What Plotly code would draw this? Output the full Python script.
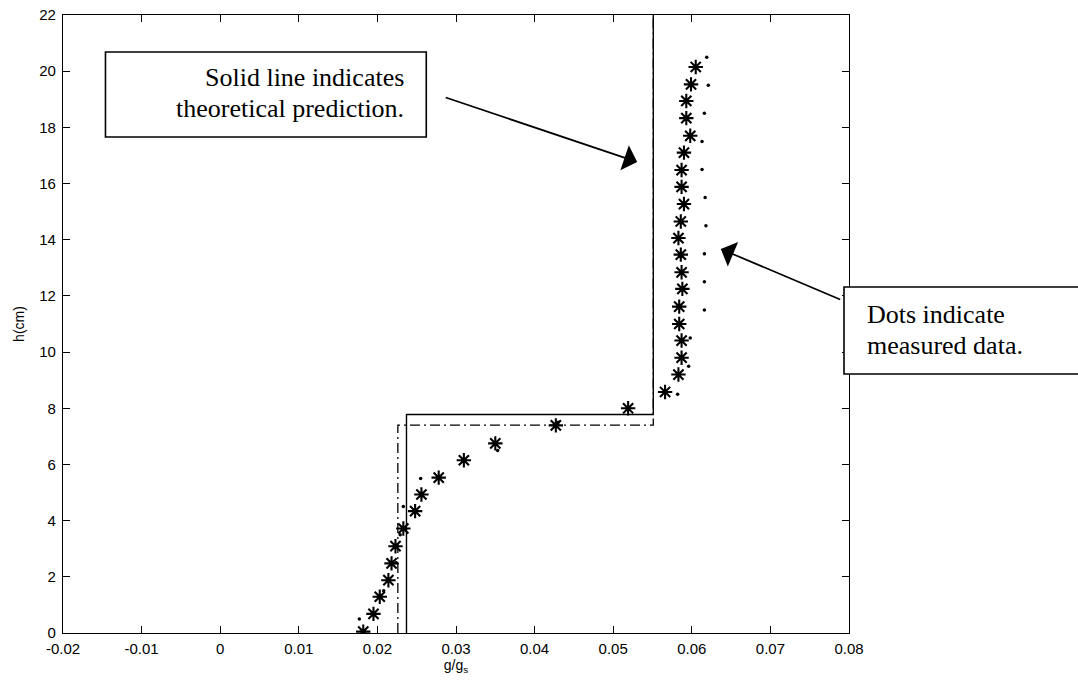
import plotly.graph_objects as go

# ---------------- data ----------------
# measured data, "asterisk" series (g/g_s, h in cm)
star_g = [0.0182, 0.0195, 0.0203, 0.0214, 0.0218, 0.0223, 0.0233, 0.0248, 0.0256,
          0.0278, 0.0310, 0.0350, 0.0427, 0.0519, 0.0566, 0.0583, 0.0587, 0.0587,
          0.0584, 0.0584, 0.0588, 0.0587, 0.0586, 0.0583, 0.0586, 0.0590, 0.0587,
          0.0587, 0.0590, 0.0598, 0.0593, 0.0593, 0.0599, 0.0605]
star_h = [0.05, 0.68, 1.29, 1.88, 2.48, 3.09, 3.72, 4.34, 4.93, 5.53, 6.15, 6.75,
          7.39, 8.00, 8.58, 9.20, 9.80, 10.41, 11.00, 11.62, 12.25, 12.84, 13.47,
          14.06, 14.65, 15.27, 15.88, 16.48, 17.10, 17.70, 18.33, 18.94, 19.53, 20.15]

# measured data, "dot" series
dot_g = [0.0177, 0.0208, 0.0224, 0.0229, 0.0233, 0.0255, 0.0353, 0.0430, 0.0582,
         0.0596, 0.0598, 0.0616, 0.0616, 0.0616, 0.0618, 0.0617, 0.0613, 0.0613,
         0.0616, 0.0621, 0.0619]
dot_h = [0.5, 1.5, 2.5, 3.5, 4.5, 5.5, 6.5, 7.5, 8.5, 9.5, 10.5, 11.5, 12.5, 13.5,
         14.5, 15.5, 16.5, 17.5, 18.5, 19.5, 20.5]

# theoretical prediction (solid) and alternative (dash-dot)
theory_g = [0.0237, 0.0237, 0.0551, 0.0551]
theory_h = [0.0, 7.78, 7.78, 22.0]
alt_g = [0.0226, 0.0226, 0.0551, 0.0551]
alt_h = [0.0, 7.40, 7.40, 22.0]

# axis ticks
x_ticks = [-0.02, -0.01, 0, 0.01, 0.02, 0.03, 0.04, 0.05, 0.06, 0.07, 0.08]
x_tick_labels = ["-0.02", "-0.01", "0", "0.01", "0.02", "0.03", "0.04", "0.05",
                 "0.06", "0.07", "0.08"]
y_ticks = [0, 2, 4, 6, 8, 10, 12, 14, 16, 18, 20, 22]
y_tick_labels = [str(v) for v in y_ticks]

# ---------------- figure ----------------
fig = go.Figure()

fig.add_trace(go.Scatter(x=alt_g, y=alt_h, mode="lines",
                         line=dict(color="black", width=1.3, dash="10px,4px,2px,4px"),
                         hoverinfo="skip", showlegend=False))
fig.add_trace(go.Scatter(x=theory_g, y=theory_h, mode="lines",
                         line=dict(color="black", width=1.4),
                         hoverinfo="skip", showlegend=False))
fig.add_trace(go.Scatter(x=dot_g, y=dot_h, mode="markers",
                         marker=dict(symbol="circle", size=3.5, color="black"),
                         showlegend=False))
fig.add_trace(go.Scatter(x=star_g, y=star_h, mode="markers",
                         marker=dict(symbol="asterisk-open", size=12, color="black",
                                     line=dict(color="black", width=2.1)),
                         showlegend=False))

serif = dict(family="Liberation Serif, Times New Roman, serif", size=26, color="black")

def px(xp):
    return (xp - 62.5) / 786.5

def py(yp):
    return (633 - yp) / 618

# text boxes (white filled, black border)
fig.add_shape(type="rect", xref="paper", yref="paper",
              x0=px(105), x1=px(426), y0=py(137), y1=py(52),
              line=dict(color="black", width=1.6), fillcolor="white", layer="above")
fig.add_shape(type="rect", xref="paper", yref="paper",
              x0=px(844), x1=px(1100), y0=py(374), y1=py(287),
              line=dict(color="black", width=1.6), fillcolor="white", layer="above")

# texts
fig.add_annotation(xref="paper", yref="paper", x=px(406), y=py(77),
                   xanchor="right", yanchor="middle", text="Solid line indicates",
                   showarrow=False, font=serif)
fig.add_annotation(xref="paper", yref="paper", x=px(406), y=py(108.5),
                   xanchor="right", yanchor="middle", text="theoretical prediction.",
                   showarrow=False, font=serif)
fig.add_annotation(xref="paper", yref="paper", x=px(865), y=py(314),
                   xanchor="left", yanchor="middle", text="Dots indicate",
                   showarrow=False, font=serif)
fig.add_annotation(xref="paper", yref="paper", x=px(865), y=py(345.5),
                   xanchor="left", yanchor="middle", text="measured data.",
                   showarrow=False, font=serif)

# arrows
fig.add_annotation(x=0.05305, y=16.77, ax=0.0285, ay=19.08, axref="x", ayref="y",
                   xref="x", yref="y", text="", showarrow=True,
                   arrowhead=1, arrowsize=2.6, arrowwidth=1.7, arrowcolor="black")
fig.add_annotation(x=0.06369, y=13.67, ax=0.07907, ay=11.85, axref="x", ayref="y",
                   xref="x", yref="y", text="", showarrow=True,
                   arrowhead=1, arrowsize=2.6, arrowwidth=1.7, arrowcolor="black")

axis_font = dict(family="Liberation Sans, Arial, sans-serif", size=15, color="black")
common = dict(showgrid=False, zeroline=False, showline=True, linecolor="black",
              linewidth=1.3, mirror="ticks", ticks="inside", ticklen=7,
              tickwidth=1.1, tickcolor="black", tickfont=axis_font,
              ticklabeloverflow="allow")

fig.update_xaxes(range=[-0.02, 0.08], tickmode="array", tickvals=x_ticks,
                 ticktext=x_tick_labels, ticklabelstandoff=2,
                 title=dict(text="g/g<sub>s</sub>", font=dict(
                     family="Liberation Sans, Arial, sans-serif", size=14, color="black"),
                     standoff=2),
                 **common)
fig.update_yaxes(range=[0, 22], tickmode="array", tickvals=y_ticks,
                 ticktext=y_tick_labels, ticklabelstandoff=3,
                 title=dict(text="h(cm)", font=dict(
                     family="Liberation Sans, Arial, sans-serif", size=14, color="black"),
                     standoff=11),
                 **common)

# plot area spans window pixels x 62.5..849, y 15..633
fig.update_layout(width=1078, height=685,
                  margin=dict(l=62.5, r=1078 - 849, t=15, b=685 - 633,
                              autoexpand=False),
                  paper_bgcolor="white", plot_bgcolor="white")

fig.write_html("out.html",
               config={"displayModeBar": False},
               post_script="document.body.style.margin='0px';"
                           "document.body.style.overflow='hidden';")
